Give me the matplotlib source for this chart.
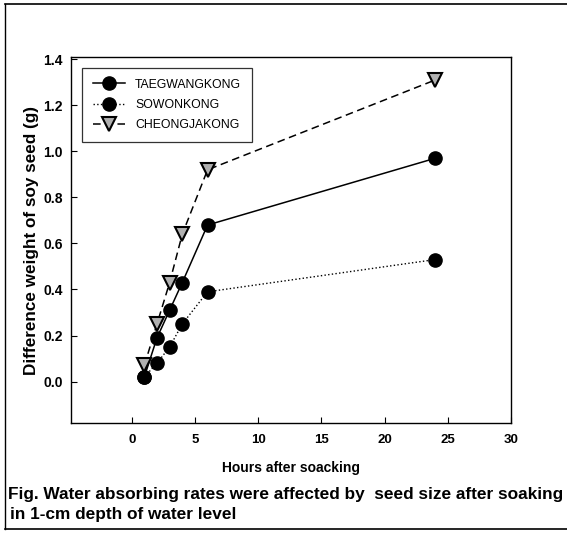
import matplotlib
matplotlib.use("Agg")
import matplotlib.pyplot as plt
from matplotlib.lines import Line2D

plt.rcParams['font.family'] = ['Liberation Sans', 'DejaVu Sans']

hours = [1, 2, 3, 4, 6, 24]
taegwangkong = [0.02, 0.19, 0.31, 0.43, 0.68, 0.97]
sowonkong = [0.02, 0.08, 0.15, 0.25, 0.39, 0.53]
cheongjakong = [0.07, 0.25, 0.43, 0.64, 0.92, 1.31]

xticks = [0, 5, 10, 15, 20, 25, 30]
yticks = [0.0, 0.2, 0.4, 0.6, 0.8, 1.0, 1.2, 1.4]

W, H = 567, 539
fig = plt.figure(figsize=(W / 100, H / 100), dpi=100)

# axes placement in pixels
left, right, top, bottom = 71, 511, 57, 423
ax = fig.add_axes([left / W, 1 - bottom / H, (right - left) / W, (bottom - top) / H])

ax.plot(hours, taegwangkong, '-', color='black', lw=1.1, marker='o', ms=9.5,
        mfc='black', mec='black', label='TAEGWANGKONG', zorder=3)
ax.plot(hours, sowonkong, ':', color='black', lw=1.0, marker='o', ms=9.5,
        mfc='black', mec='black', label='SOWONKONG', zorder=3)
ax.plot(hours, cheongjakong, '--', color='black', lw=1.1, dashes=(5, 3), marker='v', ms=10,
        mfc='#b0b0b0', mec='black', mew=1.5, label='CHEONGJAKONG', zorder=4)

ax.set_xlim(-4.8, 30)
ax.set_ylim(-0.18, 1.41)
ax.set_xticks(xticks)
ax.set_yticks(yticks)
ax.set_xticklabels([str(v) for v in xticks], fontweight='bold', fontsize=9.5)
ax.set_yticklabels([f"{v:.1f}" for v in yticks], fontweight='bold', fontsize=10)
ax.tick_params(direction='in', length=4, width=0.8)
ax.tick_params(axis='x', pad=8)
ax.tick_params(axis='y', pad=6)
for s in ax.spines.values():
    s.set_linewidth(1.0)

ax.set_xlabel('Hours after soacking', fontweight='bold', fontsize=10, labelpad=11)
ax.set_ylabel('Difference weight of soy seed (g)', fontweight='bold', fontsize=12.3, labelpad=3)

leg = ax.legend(loc='upper left', bbox_to_anchor=(0.012, 0.988), fontsize=8.8,
                frameon=True, fancybox=False, edgecolor='black', handlelength=2.6,
                borderpad=0.9, labelspacing=0.68, handletextpad=0.8)
leg.get_frame().set_linewidth(0.9)

fig.text(8 / W, 1 - 495 / H, 'Fig. Water absorbing rates were affected by  seed size after soaking',
         fontweight='bold', fontsize=12.4, va='center', ha='left')
fig.text(10 / W, 1 - 515 / H, 'in 1-cm depth of water level',
         fontweight='bold', fontsize=12.4, va='center', ha='left')

# outer border
fig.add_artist(Line2D([5 / W, 5 / W], [1 - 4 / H, 1 - 529 / H], color='black', lw=1.0, transform=fig.transFigure))
fig.add_artist(Line2D([5 / W, 1.0], [1 - 4 / H, 1 - 4 / H], color='black', lw=1.2, transform=fig.transFigure))
fig.add_artist(Line2D([5 / W, 1.0], [1 - 529 / H, 1 - 529 / H], color='black', lw=1.2, transform=fig.transFigure))

fig.savefig('out.png', dpi=100)
